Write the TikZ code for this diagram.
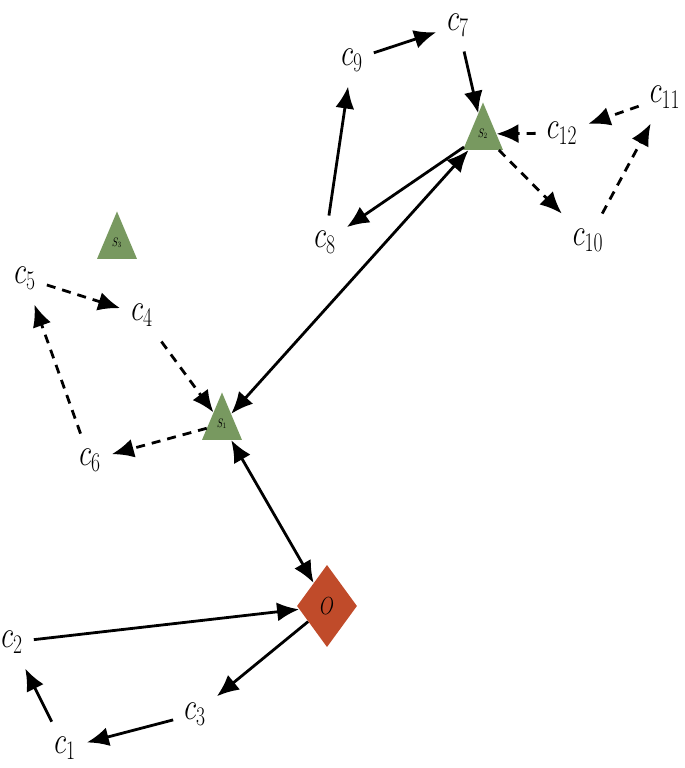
\RequirePackage{fix-cm}
\documentclass[tikz,border=0pt]{standalone}
\usetikzlibrary{arrows.meta,shapes.geometric}
\definecolor{triG}{RGB}{120,153,96}
\definecolor{diaR}{RGB}{192,75,42}
\tikzset{
  lab/.style={inner sep=11pt, font=\fontsize{28}{31}\selectfont},
  tri/.style={regular polygon, regular polygon sides=3, minimum size=46pt, inner sep=0pt, fill=triG, font=\fontsize{9}{10}\selectfont},
  dia/.style={diamond, aspect=1, minimum width=60pt, minimum height=60pt, inner sep=0pt, fill=diaR, font=\fontsize{18}{20}\selectfont},
  conn/.style={line width=2.8pt, -{Latex[length=22pt,width=19pt]}},
  bconn/.style={line width=2.8pt, {Latex[length=22pt,width=19pt]}-{Latex[length=22pt,width=19pt]}},
  dconn/.style={conn, dash pattern=on 9pt off 7pt},
  every node/.append style={transform shape}
}
\begin{document}
\begin{tikzpicture}[x=1pt, y=-0.72993pt, yscale=1.37]
\useasboundingbox (0,0) rectangle (685,768);
% nodes
\node[lab] (c1) at (65,748) {$c_1$};
\node[lab] (c2) at (12,642) {$c_2$};
\node[lab] (c3) at (195,714) {$c_3$};
\node[lab] (c4) at (142,315) {$c_4$};
\node[lab] (c5) at (25,278) {$c_5$};
\node[lab] (c6) at (90,460) {$c_6$};
\node[lab] (c7) at (458,25) {$c_7$};
\node[lab] (c8) at (325,242) {$c_8$};
\node[lab] (c9) at (352,60) {$c_9$};
\node[lab] (c10) at (588,240) {$c_{10}$};
\node[lab] (c11) at (665,97) {$c_{11}$};
\node[lab] (c12) at (562,133) {$c_{12}$};
\node[tri] (S1) at (222,424) {$S_1$};
\node[tri] (S2) at (483,134) {$S_2$};
\node[tri] (S3) at (117,243) {$S_3$};
\node[dia] (O) at (327,606) {$O$};
% solid connectors
\draw[conn] (c2) -- (O);
\draw[conn] (O) -- (c3);
\draw[conn] (c3) -- (c1);
\draw[conn] (c1) -- (c2);
\draw[bconn] (O) -- (S1);
\draw[bconn] (S1) -- (S2);
\draw[conn] (S2) -- (c8);
\draw[conn] (c8) -- (c9);
\draw[conn] (c9) -- (c7);
\draw[conn] (c7) -- (S2);
% dashed connectors
\draw[dconn] (S2) -- (c10);
\draw[dconn] (c10) -- (c11);
\draw[dconn] (c11) -- (c12);
\draw[dconn] (c12) -- (S2);
\draw[dconn] (c5) -- (c4);
\draw[dconn] (c4) -- (S1);
\draw[dconn] (S1) -- (c6);
\draw[dconn] (c6) -- (c5);
\end{tikzpicture}
\end{document}
